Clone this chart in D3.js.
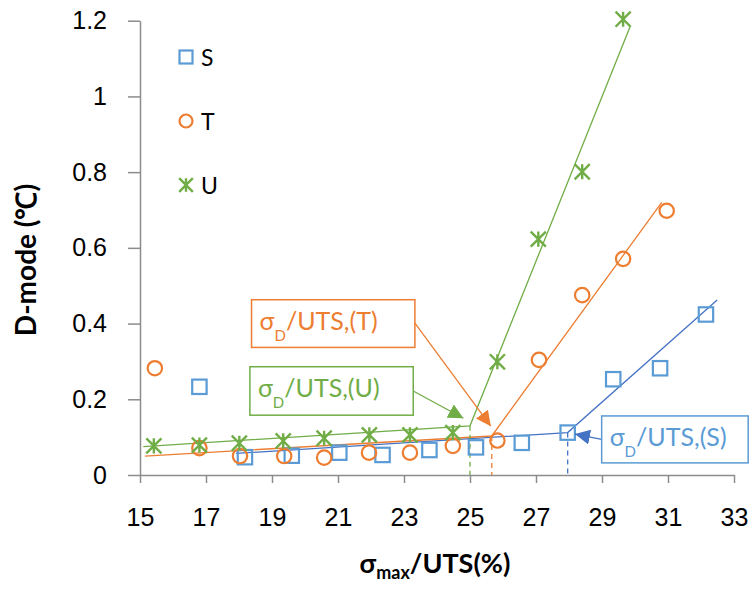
<!DOCTYPE html>
<html>
<head>
<meta charset="utf-8">
<script src="https://cdn.jsdelivr.net/npm/d3@7"></script>
<style>
  body { margin: 0; background: #fff; }
  svg { font-family: Lato, "Open Sans", sans-serif; }
  .axis path, .axis line { stroke: #8c8c8c; stroke-width: 1.5; }
  .axis text { font-size: 25px; fill: #000; }
</style>
</head>
<body>
<div id="chart"></div>
<script>
// series S, T, U  (x = sigma_max/UTS %, y = D-mode)
var sX = [16.80, 18.18, 19.60, 21.04, 22.35, 23.77, 25.18, 26.57, 27.96, 29.34, 30.76, 32.15];
var sY = [0.233, 0.047, 0.051, 0.059, 0.053, 0.066, 0.073, 0.085, 0.112, 0.253, 0.282, 0.424];
var tX = [15.45, 16.80, 18.03, 19.37, 20.58, 21.94, 23.18, 24.48, 25.83, 27.09, 28.40, 29.64, 30.96];
var tY = [0.282, 0.071, 0.050, 0.050, 0.046, 0.059, 0.059, 0.077, 0.091, 0.304, 0.475, 0.571, 0.698];
var uX = [15.42, 16.80, 18.01, 19.34, 20.58, 21.95, 23.18, 24.48, 25.83, 27.07, 28.40, 29.64];
var uY = [0.077, 0.079, 0.084, 0.090, 0.097, 0.106, 0.106, 0.112, 0.299, 0.623, 0.801, 1.204];

// bilinear fits: start, knee, end
var sFit = [[17.91, 0.057], [27.96, 0.112], [32.49, 0.462]];
var tFit = [[15.15, 0.050], [25.66, 0.103], [30.81, 0.720]];
var uFit = [[15.10, 0.075], [25.00, 0.130], [29.85, 1.184]];

var xTicks = [15, 17, 19, 21, 23, 25, 27, 29, 31, 33];
var yTicks = [0, 0.2, 0.4, 0.6, 0.8, 1, 1.2];
var names = ["S", "T", "U"];

// callout boxes: [x0, y0, x1, y1] box, arrow start, arrow tip (data units)
var calloutBox = [[28.99, 0.156, 33.43, 0.032], [18.38, 0.463, 23.33, 0.337], [18.33, 0.286, 23.28, 0.158]];
var calloutFrom = [[28.99, 0.094], [23.33, 0.401], [23.28, 0.222]];
var calloutTip = [[28.18, 0.108], [25.63, 0.129], [24.80, 0.150]];

var W = 755, H = 591;
var mark = ["#5B9BD5", "#ED7D31", "#70AD47"];
var fitCol = ["#4472C4", "#ED7D31", "#70AD47"];

var x = d3.scaleLinear().domain([15, 33]).range([140, 734]);
var y = d3.scaleLinear().domain([0, 1.2]).range([475, 20.7]);

var svg = d3.select("#chart").append("svg")
    .attr("width", W)
    .attr("height", H);

svg.append("g")
  .attr("class", "x axis")
  .attr("transform", "translate(0," + y(0) + ")")
  .call(d3.axisBottom(x).tickValues(xTicks).tickSize(8).tickSizeOuter(0).tickPadding(25));

svg.append("g")
  .attr("class", "y axis")
  .attr("transform", "translate(" + x(15) + ",0)")
  .call(d3.axisLeft(y).tickValues(yTicks).tickSize(12).tickSizeOuter(0).tickPadding(21)
    .tickFormat(function(d) { return d3.format("")(+d.toFixed(1)); }));

// arrowheads
var defs = svg.append("defs");
var headCol = ["#4472C4", "#ED7D31", "#70AD47"];
headCol.forEach(function(c, i) {
  defs.append("marker")
    .attr("id", "arr" + i)
    .attr("viewBox", "0 0 10 10")
    .attr("refX", 10).attr("refY", 5)
    .attr("markerUnits", "userSpaceOnUse")
    .attr("markerWidth", 15).attr("markerHeight", 15)
    .attr("orient", "auto")
    .append("path")
    .attr("d", "M0,0L10,5L0,10Z")
    .attr("fill", c);
});

// fit lines + dashed knee drops
var fits = [sFit, tFit, uFit];
var line = d3.line().x(function(d) { return x(d[0]); }).y(function(d) { return y(d[1]); });
fits.forEach(function(f, i) {
  svg.append("path")
    .datum(f)
    .attr("d", line)
    .attr("fill", "none")
    .attr("stroke", fitCol[i])
    .attr("stroke-width", 1.3);
  svg.append("line")
    .attr("x1", x(f[1][0])).attr("x2", x(f[1][0]))
    .attr("y1", y(f[1][1])).attr("y2", y(0))
    .attr("stroke", fitCol[i])
    .attr("stroke-width", 1.3)
    .attr("stroke-dasharray", "5,4");
});

// marker shapes
function drawMarker(g, k, cx, cy, r) {
  if (k == 0) {
    g.append("rect")
      .attr("x", cx - r).attr("y", cy - r)
      .attr("width", 2 * r).attr("height", 2 * r)
      .attr("fill", "none").attr("stroke", mark[0]).attr("stroke-width", 2.2);
  } else if (k == 1) {
    g.append("circle")
      .attr("cx", cx).attr("cy", cy).attr("r", r)
      .attr("fill", "none").attr("stroke", mark[1]).attr("stroke-width", 2.2);
  } else {
    var s = r * 1.05;
    g.append("path")
      .attr("d", "M" + cx + "," + (cy - s) + "V" + (cy + s) +
        "M" + (cx - s) + "," + (cy - s) + "L" + (cx + s) + "," + (cy + s) +
        "M" + (cx - s) + "," + (cy + s) + "L" + (cx + s) + "," + (cy - s))
      .attr("fill", "none").attr("stroke", mark[2]).attr("stroke-width", 2.4);
  }
}

var series = [[sX, sY], [tX, tY], [uX, uY]];
var pts = svg.append("g");
series.forEach(function(s, k) {
  s[0].forEach(function(v, j) {
    drawMarker(pts, k, x(v), y(s[1][j]), 7.2);
  });
});

// legend
var leg = svg.append("g");
names.forEach(function(n, i) {
  var ly = 57 + i * 64;
  drawMarker(leg, i, 186, ly, 6.5);
  leg.append("text")
    .attr("x", 201).attr("y", ly + 8.5)
    .style("font-size", "23px")
    .text(n);
});

// callouts
var labels = ["S", "T", "U"];
calloutBox.forEach(function(b, i) {
  svg.append("line")
    .attr("x1", x(calloutFrom[i][0])).attr("y1", y(calloutFrom[i][1]))
    .attr("x2", x(calloutTip[i][0])).attr("y2", y(calloutTip[i][1]))
    .attr("stroke", headCol[i])
    .attr("stroke-width", 1.3)
    .attr("marker-end", "url(#arr" + i + ")");
  svg.append("rect")
    .attr("x", x(b[0])).attr("y", y(b[1]))
    .attr("width", x(b[2]) - x(b[0])).attr("height", y(b[3]) - y(b[1]))
    .attr("fill", "#fff")
    .attr("stroke", mark[i])
    .attr("stroke-width", 1.5);
  var t = svg.append("text")
    .attr("x", x(b[0]) + 8)
    .attr("y", y(b[1]) + 30)
    .attr("fill", mark[i])
    .style("font-size", "25px");
  t.append("tspan").text("σ");
  t.append("tspan").attr("dy", 11).style("font-size", "15px").text("D");
  t.append("tspan").attr("dy", -11).text("/UTS,(" + labels[i] + ")");
});

// axis titles
var xt = svg.append("text")
  .attr("x", 435).attr("y", 573)
  .attr("text-anchor", "middle")
  .style("font-size", "27px")
  .style("font-weight", "bold");
xt.append("tspan").text("σ");
xt.append("tspan").attr("dy", 6).style("font-size", "18px").text("max");
xt.append("tspan").attr("dy", -6).text("/UTS(%)");

svg.append("text")
  .attr("transform", "translate(36,260) rotate(-90)")
  .attr("text-anchor", "middle")
  .style("font-size", "28px")
  .style("font-weight", "bold")
  .text("D-mode (℃)");
</script>
</body>
</html>
